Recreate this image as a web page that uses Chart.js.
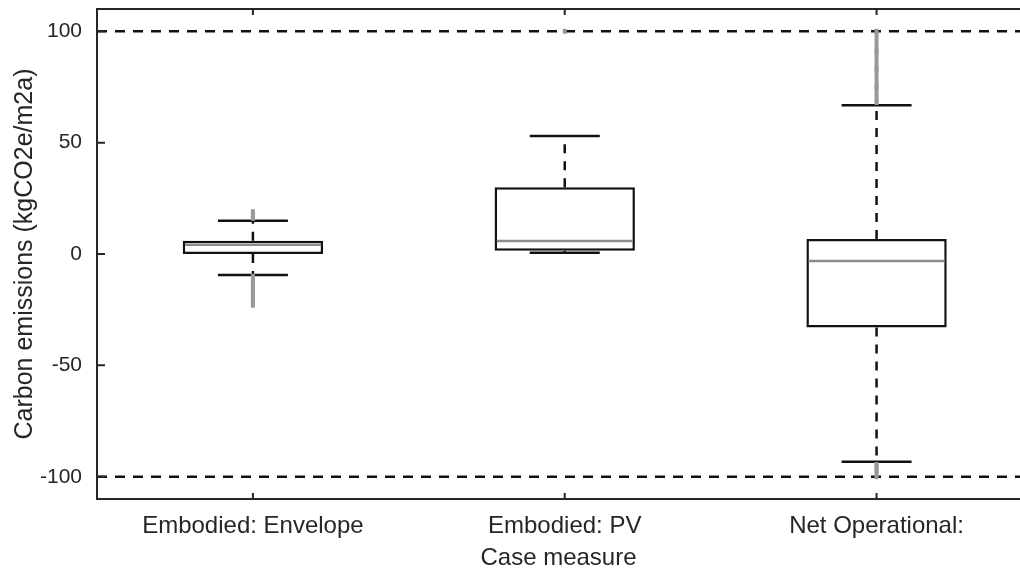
<!DOCTYPE html>
<html lang="en">
<head>
  <meta charset="UTF-8" />
  <title>Carbon emissions by case measure</title>
  <script src="https://cdn.jsdelivr.net/npm/chart.js"></script>
  <style>
    html, body { margin: 0; padding: 0; background: #fff; overflow: hidden; }
    .chart-box { width: 1020px; height: 570px; position: relative; }
  </style>
</head>
<body>
  <div class="chart-box"><canvas id="boxChart"></canvas></div>
  <script>
    const categories = ["Embodied: Envelope", "Embodied: PV", "Net Operational:"];
    const q1 = [0, 1.5, -33];
    const q3 = [6.0, 30, 6.7];
    const medians = [4.2, 5.8, -3.1];
    const whiskerLow = [-9.4, 0.6, -93.3];
    const whiskerHigh = [14.9, 53, 66.8];
    const outliersHigh = [[16, 17.5, 19], [100], [68, 75, 83, 91, 100]];
    const outliersLow = [[-10, -13, -16, -19, -23], [], [-94.5, -97, -100]];
    const limitLines = [100, -100];
    const yTicks = [-100, -50, 0, 50, 100];

    const X_MIN = 0.5, X_MAX = 3.46;
    const INK = "#111111";
    const TEXT = "#262626";
    const GREY = "#8c8c8c";
    const xs = categories.map((c, i) => i + 1);
    const gap = x => ({ x: x, y: NaN });

    // MATLAB style frame with inward ticks (no right edge, it is cut off)
    const framePlugin = {
      id: "frame",
      afterDraw(chart) {
        const { ctx, chartArea: a, scales: { x, y } } = chart;
        ctx.save();
        ctx.strokeStyle = TEXT;
        ctx.lineWidth = 2;
        ctx.beginPath();
        ctx.moveTo(a.right, a.top);
        ctx.lineTo(a.left, a.top);
        ctx.lineTo(a.left, a.bottom);
        ctx.lineTo(a.right, a.bottom);
        y.ticks.forEach(t => {
          const py = y.getPixelForValue(t.value);
          ctx.moveTo(a.left, py);
          ctx.lineTo(a.left + 8, py);
        });
        x.ticks.forEach(t => {
          const px = x.getPixelForValue(t.value);
          ctx.moveTo(px, a.bottom);
          ctx.lineTo(px, a.bottom - 6);
          ctx.moveTo(px, a.top);
          ctx.lineTo(px, a.top + 6);
        });
        ctx.stroke();
        ctx.restore();
      }
    };

    const datasets = [
      {
        type: "bar",
        data: xs.map((x, i) => ({ x: x, y: [q1[i], q3[i]] })),
        backgroundColor: "#ffffff",
        borderColor: INK,
        borderWidth: 2.5,
        borderSkipped: false,
        barPercentage: 0.45,
        categoryPercentage: 1,
        order: 4
      },
      {
        type: "line",
        data: xs.flatMap((x, i) => [
          { x: x, y: q3[i] }, { x: x, y: whiskerHigh[i] }, gap(x),
          { x: x, y: q1[i] }, { x: x, y: whiskerLow[i] }, gap(x)
        ]),
        borderColor: INK,
        borderWidth: 2.5,
        borderDash: [9, 8],
        pointRadius: 0,
        spanGaps: false,
        order: 5
      },
      {
        type: "line",
        data: xs.flatMap((x, i) => [{ x: x, y: whiskerHigh[i] }, { x: x, y: whiskerLow[i] }]),
        showLine: false,
        pointStyle: "line",
        pointRadius: 35,
        pointBorderWidth: 2.5,
        pointBorderColor: INK,
        order: 3
      },
      {
        type: "line",
        data: xs.map((x, i) => ({ x: x, y: medians[i] })),
        showLine: false,
        pointStyle: "line",
        pointRadius: 68,
        pointBorderWidth: 2.5,
        pointBorderColor: GREY,
        order: 2
      },
      {
        type: "line",
        data: limitLines.flatMap(v => [{ x: X_MIN, y: v }, { x: X_MAX, y: v }, gap(X_MAX)]),
        borderColor: INK,
        borderWidth: 2.5,
        borderDash: [10, 8],
        pointRadius: 0,
        spanGaps: false,
        order: 6
      },
      {
        type: "line",
        data: xs.flatMap((x, i) => [
          ...outliersHigh[i].map(v => ({ x: x, y: v })), gap(x),
          ...outliersLow[i].map(v => ({ x: x, y: v })), gap(x)
        ]),
        borderColor: "#999999",
        borderWidth: 4,
        pointStyle: "line",
        rotation: 90,
        pointRadius: 2.5,
        pointBorderWidth: 4,
        pointBorderColor: "#999999",
        spanGaps: false,
        order: 1
      }
    ];

    new Chart(document.getElementById("boxChart"), {
      type: "bar",
      data: { datasets: datasets },
      options: {
        responsive: true,
        maintainAspectRatio: false,
        animation: false,
        events: [],
        layout: { autoPadding: false, padding: { top: 9, right: 0, bottom: 0, left: 0 } },
        plugins: {
          legend: { display: false },
          tooltip: { enabled: false }
        },
        scales: {
          x: {
            type: "linear",
            min: X_MIN,
            max: X_MAX,
            offset: false,
            grid: { display: false, drawTicks: false },
            border: { display: false },
            afterBuildTicks: s => { s.ticks = xs.map(v => ({ value: v })); },
            afterFit: s => { s.height = 71; s.paddingLeft = 0; s.paddingRight = 0; },
            ticks: {
              callback: v => categories[Math.round(v) - 1],
              font: { family: "Liberation Sans", size: 24, lineHeight: 1.2 },
              color: TEXT,
              padding: 13,
              maxRotation: 0,
              autoSkip: false
            },
            title: {
              display: true,
              text: "Case measure",
              font: { family: "Liberation Sans", size: 24, lineHeight: 1 },
              color: TEXT,
              padding: { top: 5, bottom: 0 }
            }
          },
          y: {
            min: -110,
            max: 110,
            grid: { display: false, drawTicks: false },
            border: { display: false },
            afterBuildTicks: s => { s.ticks = yTicks.map(v => ({ value: v })); },
            afterFit: s => { s.width = 97; s.paddingTop = 0; s.paddingBottom = 0; },
            ticks: {
              font: { family: "Liberation Sans", size: 21 },
              color: TEXT,
              padding: 15
            },
            title: {
              display: true,
              text: "Carbon emissions (kgCO2e/m2a)",
              font: { family: "Liberation Sans", size: 25, lineHeight: 1.2 },
              color: TEXT,
              padding: { top: 10, bottom: 0 }
            }
          }
        }
      },
      plugins: [framePlugin]
    });
  </script>
</body>
</html>
